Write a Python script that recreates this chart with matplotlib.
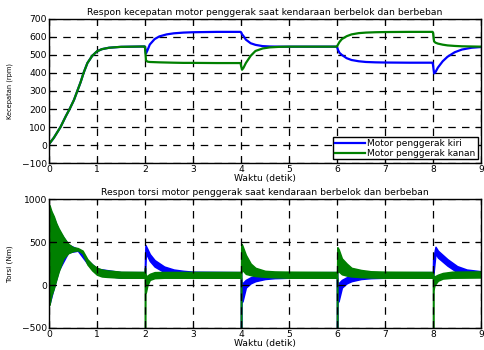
import matplotlib
matplotlib.use("Agg")
import matplotlib.pyplot as plt

plt.rcParams['font.family'] = ['DejaVu Sans']

# --- kecepatan (rpm) ---
t_spd = [0, 0.1, 0.24, 0.35, 0.43, 0.52, 0.59, 0.66, 0.72, 0.8, 0.9, 1.0, 1.1, 1.25, 1.5, 1.99,
         2.0, 2.02, 2.05, 2.1, 2.2, 2.3, 2.45, 2.6, 2.8, 3.0, 3.5, 3.99,
         4.0, 4.02, 4.05, 4.1, 4.2, 4.3, 4.45, 4.6, 4.8, 5.0, 5.5, 5.99,
         6.0, 6.02, 6.05, 6.1, 6.2, 6.3, 6.45, 6.6, 6.8, 7.0, 7.5, 7.99,
         8.0, 8.02, 8.05, 8.1, 8.2, 8.3, 8.45, 8.6, 8.8, 9.0]
spd_kiri = [5, 40, 100, 160, 200, 250, 300, 350, 400, 455, 495, 520, 532, 540, 545, 547,
            546, 508, 525, 558, 588, 603, 614, 620, 624, 626, 628, 628,
            626, 615, 605, 585, 565, 556, 549, 547, 546, 546, 546, 546,
            543, 528, 512, 500, 482, 472, 465, 461, 459, 458, 457, 457,
            440, 398, 405, 430, 465, 490, 515, 530, 540, 544]
spd_kanan = [5, 40, 100, 160, 200, 250, 300, 350, 400, 455, 495, 520, 532, 540, 545, 547,
             540, 470, 463, 461, 460, 459, 458, 457, 456, 456, 455, 455,
             440, 418, 428, 455, 495, 522, 536, 542, 545, 546, 546, 546,
             548, 558, 572, 588, 604, 614, 621, 624, 626, 627, 628, 628,
             620, 575, 568, 563, 557, 553, 550, 548, 547, 546]

# --- torsi (Nm): selubung atas/bawah osilasi ---
t_trq_kanan = [0, 0.01, 0.05, 0.1, 0.15, 0.2, 0.3, 0.4, 0.5, 0.6, 0.7, 0.8, 0.9, 1.0, 1.1, 1.2, 1.5, 1.995,
               2.0, 2.005, 2.02, 2.05, 2.1, 2.2, 2.4, 3.995,
               4.0, 4.005, 4.02, 4.1, 4.2, 4.3, 4.5, 4.7, 5.0, 5.995,
               6.0, 6.005, 6.03, 6.1, 6.2, 6.3, 6.5, 6.7, 7.0, 7.995,
               8.0, 8.005, 8.03, 8.1, 8.2, 8.4, 9.0]
trq_kanan_atas = [920, 930, 860, 800, 720, 660, 560, 480, 440, 430, 400, 300, 240, 200, 180, 170, 155, 152,
                  200, 150, 100, 110, 130, 150, 152, 152,
                  150, 480, 470, 350, 250, 200, 165, 158, 155, 152,
                  150, 440, 420, 310, 250, 200, 175, 160, 155, 152,
                  150, 110, 100, 120, 140, 155, 158]
trq_kanan_bawah = [-200, -230, -120, -40, 60, 155, 310, 370, 395, 405, 370, 240, 170, 120, 100, 95, 85, 85,
                   -520, -100, -80, 0, 60, 80, 85, 85,
                   -520, 200, 180, 130, 115, 105, 95, 90, 85, 85,
                   -520, 180, 160, 125, 110, 100, 92, 88, 85, 85,
                   -520, -60, 0, 50, 75, 85, 88]

t_trq_kiri = [0, 0.01, 0.1, 0.2, 0.4, 0.6, 0.8, 1.0, 1.5, 1.995,
              2.0, 2.01, 2.1, 2.2, 2.4, 2.6, 2.8, 3.0, 3.995,
              4.0, 4.005, 4.03, 4.1, 4.2, 4.3, 4.5, 4.7, 5.0, 5.995,
              6.0, 6.005, 6.03, 6.1, 6.2, 6.3, 6.5, 6.7, 7.0, 7.995,
              8.0, 8.05, 8.1, 8.3, 8.5, 8.7, 9.0]
trq_kiri_atas = [880, 900, 780, 640, 470, 420, 290, 190, 150, 150,
                 300, 465, 360, 290, 215, 180, 165, 155, 150,
                 150, 40, 20, 60, 90, 110, 130, 140, 148, 150,
                 150, 40, 20, 60, 90, 110, 130, 140, 148, 150,
                 300, 445, 400, 300, 220, 180, 160]
trq_kiri_bawah = [-200, -220, -30, 170, 380, 400, 250, 125, 85, 85,
                  80, 380, 280, 215, 150, 115, 95, 88, 85,
                  -520, -200, -190, -30, 20, 45, 70, 80, 85, 85,
                  -520, -200, -190, -30, 20, 45, 70, 80, 85, 85,
                  90, 370, 320, 225, 150, 110, 95]

BLUE = '#0000ff'
GREEN = '#008000'

fig = plt.figure(figsize=(4.85, 3.5), dpi=100)
ax1 = fig.add_axes([0.101, 0.534, 0.891, 0.412])
ax2 = fig.add_axes([0.101, 0.063, 0.891, 0.368])

ax1.plot(t_spd, spd_kiri, color=BLUE, lw=1.6, label='Motor penggerak kiri')
ax1.plot(t_spd, spd_kanan, color=GREEN, lw=1.6, label='Motor penggerak kanan')
ax1.set_xlim(0, 9)
ax1.set_ylim(-100, 700)
ax1.set_yticks(range(-100, 701, 100))
ax1.set_title('Respon kecepatan motor penggerak saat kendaraan berbelok dan berbeban', fontsize=6.7, pad=3)
ax1.set_xlabel('Waktu (detik)', fontsize=6.6, labelpad=0)
ax1.set_ylabel('Kecepatan (rpm)', fontsize=4.8, labelpad=6)
leg = ax1.legend(loc='lower right', fontsize=6.5, fancybox=False, framealpha=1,
                 edgecolor='black', borderpad=0.2, handlelength=3.3, labelspacing=0.1,
                 handletextpad=0.3, borderaxespad=0.4)
leg.get_frame().set_linewidth(1.0)

ax2.fill_between(t_trq_kiri, trq_kiri_bawah, trq_kiri_atas, color=BLUE, lw=1.1)
ax2.fill_between(t_trq_kanan, trq_kanan_bawah, trq_kanan_atas, color=GREEN, lw=1.1)
ax2.set_xlim(0, 9)
ax2.set_ylim(-500, 1000)
ax2.set_yticks([-500, 0, 500, 1000])
ax2.set_title('Respon torsi motor penggerak saat kendaraan berbelok dan berbeban', fontsize=6.7, pad=3)
ax2.set_xlabel('Waktu (detik)', fontsize=6.6, labelpad=0)
ax2.set_ylabel('Torsi (Nm)', fontsize=5.2, labelpad=6)

for ax in (ax1, ax2):
    ax.set_xticks(range(0, 10))
    ax.tick_params(direction='in', top=True, right=True, length=4, width=0.8, labelsize=6.6, pad=1.5)
    ax.grid(True, color='black', linestyle=(0, (6, 5)), lw=0.9)
    for s in ax.spines.values():
        s.set_linewidth(1.0)

fig.savefig('out.png', dpi=100)
